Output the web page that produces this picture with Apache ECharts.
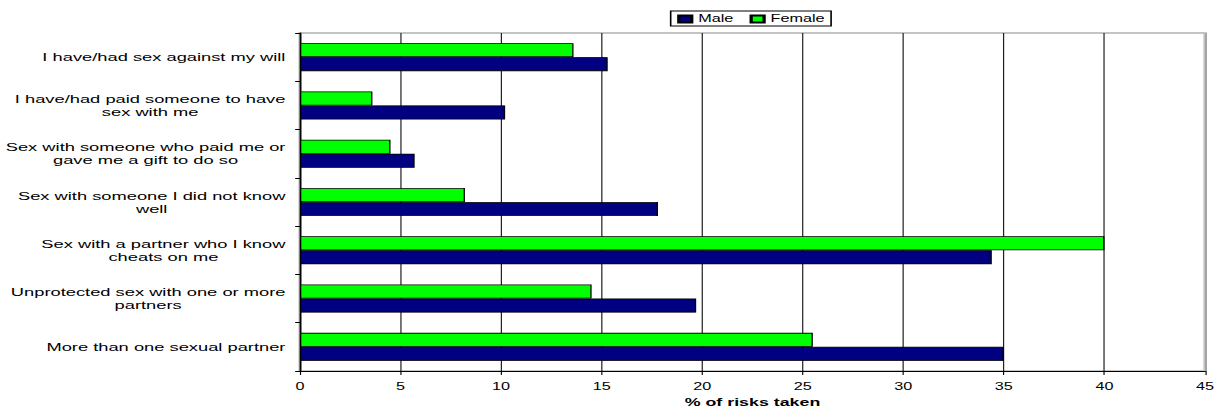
<!DOCTYPE html>
<html>
<head>
<meta charset="utf-8">
<script src="https://cdn.jsdelivr.net/npm/echarts@6/dist/echarts.min.js"></script>
<style>
  html, body { margin: 0; padding: 0; background: #fff; overflow: hidden; }
  /* The chart is laid out narrow and widened horizontally, giving the wide lettering */
  #wrap { width: 1215px; height: 409px; overflow: hidden; }
  #chart { width: 750px; height: 409px; transform: scaleX(1.62); transform-origin: 0 0; }
</style>
</head>
<body>
<div id="wrap"><div id="chart"></div></div>
<script>
// Risk categories, listed top to bottom
const categories = [
  'I have/had sex against my will',
  'I have/had paid someone to have\nsex with me',
  'Sex with someone who paid me or\ngave me a gift to do so',
  'Sex with someone I did not know\nwell',
  'Sex with a partner who I know\ncheats on me',
  'Unprotected sex with one or more\npartners',
  'More than one sexual partner'
];
const maleValues   = [15.3, 10.2, 5.7, 17.8, 34.4, 19.7, 35.0];
const femaleValues = [13.6, 3.6, 4.5, 8.2, 40.0, 14.5, 25.5];
const xTicks = { min: 0, max: 45, interval: 5 };
const xAxisTitle = '% of risks taken';

const FONT = "'Liberation Sans', Arial, sans-serif";

const chart = echarts.init(document.getElementById('chart'), null, { renderer: 'svg' });

chart.setOption({
  animation: false,
  backgroundColor: '#fff',
  textStyle: { fontFamily: FONT, color: '#000' },
  legend: {
    data: ['Male', 'Female'],
    left: 414,
    top: 11,
    orient: 'horizontal',
    padding: [3, 4, 2, 4],
    itemWidth: 8,
    itemHeight: 7,
    itemGap: 10,
    backgroundColor: '#fff',
    borderColor: '#000',
    borderWidth: 1,
    borderRadius: 0,
    icon: 'rect',
    textStyle: { fontFamily: FONT, fontSize: 10, color: '#000', padding: [0, 0, 0, -1] }
  },
  grid: {
    left: 185.2,
    right: 6.2,
    top: 33,
    bottom: 38,
    outerBoundsMode: 'none',
    containLabel: false,
    show: true,
    borderColor: '#c4c4c4',
    borderWidth: 2,
    backgroundColor: 'transparent'
  },
  xAxis: {
    type: 'value',
    min: xTicks.min,
    max: xTicks.max,
    interval: xTicks.interval,
    name: xAxisTitle,
    nameLocation: 'middle',
    nameGap: 26,
    nameTextStyle: { fontFamily: FONT, fontSize: 11, fontWeight: 'bold', color: '#000' },
    axisLine: { show: true, lineStyle: { color: '#000', width: 1 } },
    axisTick: { show: true, length: 4, lineStyle: { color: '#000', width: 0.7 } },
    axisLabel: { fontFamily: FONT, fontSize: 10, color: '#000', margin: 11 },
    splitLine: {
      show: true,
      lineStyle: {
        color: ['#000', '#222', '#222', '#222', '#222', '#222', '#222', '#222', '#222', '#8a8a8a'],
        width: 0.75
      }
    }
  },
  yAxis: {
    type: 'category',
    inverse: true,
    data: categories,
    axisLine: { show: true, lineStyle: { color: '#000', width: 1 } },
    axisTick: { show: true, length: 3, lineStyle: { color: '#000', width: 1 } },
    axisLabel: {
      align: 'right',
      margin: 9,
      fontFamily: FONT,
      fontSize: 11.3,
      color: '#000',
      formatter: function (v) {
        return v.split('\n').map(function (line) { return '{c|' + line + '}'; }).join('\n');
      },
      rich: {
        c: { align: 'center', fontFamily: FONT, fontSize: 11.3, lineHeight: 13, color: '#000' }
      }
    },
    splitLine: { show: false }
  },
  series: [
    {
      name: 'Female',
      type: 'bar',
      data: femaleValues,
      barGap: '0%',
      barCategoryGap: '42%',
      itemStyle: { color: '#00ff00', borderColor: '#000', borderWidth: 0.8 }
    },
    {
      name: 'Male',
      type: 'bar',
      data: maleValues,
      barGap: '0%',
      barCategoryGap: '42%',
      itemStyle: { color: '#000080', borderColor: '#000', borderWidth: 0.8 }
    }
  ]
});
</script>
</body>
</html>
